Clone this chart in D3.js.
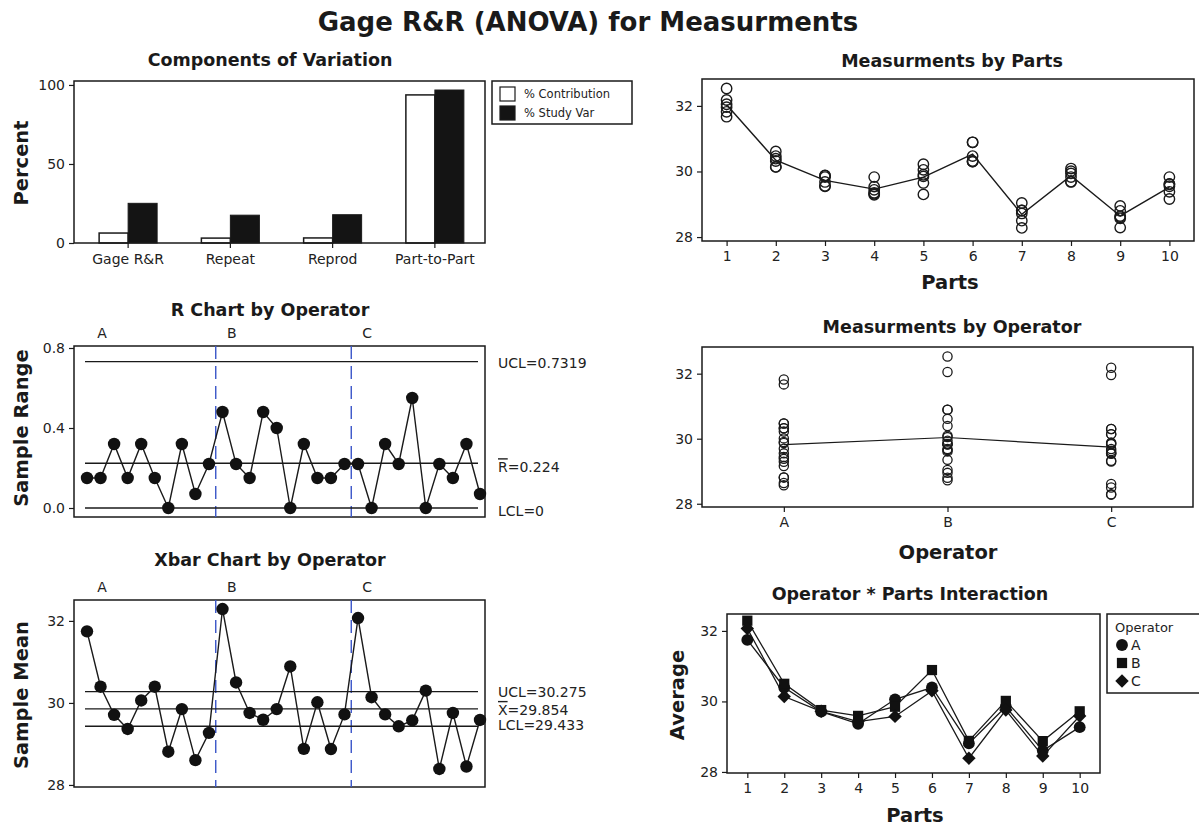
<!DOCTYPE html>
<html>
<head>
<meta charset="utf-8">
<script src="https://cdnjs.cloudflare.com/ajax/libs/d3/7.8.5/d3.min.js"></script>
<style>
  body { margin: 0; background: #fff; }
  svg { font-family: "DejaVu Sans", sans-serif; }
</style>
</head>
<body>
<svg id="chart" width="1199" height="827"></svg>
<script>
// --- data ---
const components = ['Gage R&R', 'Repeat', 'Reprod', 'Part-to-Part'];
const pctContribution = [6.3, 3.1, 3.2, 93.7];
const pctStudyVar = [25.1, 17.6, 17.9, 96.8];

const parts = [1, 2, 3, 4, 5, 6, 7, 8, 9, 10];
const operators = ['A', 'B', 'C'];

// two trials per operator and part
const measA1 = [31.67, 30.32, 29.55, 29.29, 29.90, 30.32, 28.81, 29.69, 28.57, 29.16];
const measA2 = [31.82, 30.47, 29.87, 29.44, 30.22, 30.47, 28.81, 30.01, 28.64, 29.38];
const measB1 = [32.05, 30.39, 29.68, 29.35, 29.65, 30.89, 28.72, 29.94, 28.80, 29.61];
const measB2 = [32.53, 30.61, 29.83, 29.83, 30.05, 30.89, 29.04, 30.09, 28.95, 29.83];
const measC1 = [31.96, 30.14, 29.56, 29.32, 29.30, 30.30, 28.28, 29.68, 28.29, 29.55];
const measC2 = [32.18, 30.14, 29.88, 29.54, 29.85, 30.30, 28.50, 29.83, 28.61, 29.62];

const rLimits = [0.7319, 0.224, 0];
const xbarLimits = [30.275, 29.854, 29.433];

// --- derived subgroups ---
const trials = [[measA1, measA2], [measB1, measB2], [measC1, measC2]];
const subgroups = [];
operators.forEach((op, i) => {
  parts.forEach((p, j) => {
    const vals = [trials[i][0][j], trials[i][1][j]];
    subgroups.push({ k: i * 10 + j + 1, op: op, part: p,
      mean: d3.mean(vals), range: d3.max(vals) - d3.min(vals) });
  });
});
const allMeas = [];
operators.forEach((op, i) => {
  parts.forEach((p, j) => {
    allMeas.push({ op: op, part: p, v: trials[i][0][j] });
    allMeas.push({ op: op, part: p, v: trials[i][1][j] });
  });
});

const svg = d3.select('#chart');
const ink = '#1a1a1a';

function box(x0, y0, x1, y1) {
  svg.append('rect')
    .attr('x', x0).attr('y', y0)
    .attr('width', x1 - x0).attr('height', y1 - y0)
    .attr('fill', 'none').attr('stroke', ink).attr('stroke-width', 1.5);
}
function panelTitle(x, y, txt) {
  svg.append('text').attr('x', x).attr('y', y)
    .attr('text-anchor', 'middle').attr('font-weight', 'bold')
    .attr('font-size', 17.5).attr('fill', ink).text(txt);
}
function axisTitle(x, y, txt, rotate) {
  const t = svg.append('text')
    .attr('text-anchor', 'middle').attr('font-weight', 'bold')
    .attr('font-size', 19.5).attr('fill', ink).text(txt);
  if (rotate) t.attr('transform', `translate(${x},${y}) rotate(-90)`);
  else t.attr('x', x).attr('y', y);
}
function styleAxis(g) {
  g.attr('font-family', '"DejaVu Sans", sans-serif').attr('font-size', 14);
  g.select('.domain').remove();
  g.selectAll('.tick line').attr('stroke', ink).attr('stroke-width', 1.2);
  g.selectAll('.tick text').attr('fill', '#222');
}

// main title
svg.append('text').attr('x', 588).attr('y', 31)
  .attr('text-anchor', 'middle').attr('font-weight', 'bold')
  .attr('font-size', 26).attr('fill', ink)
  .text('Gage R&R (ANOVA) for Measurments');

// ===== Components of Variation =====
panelTitle(270, 66, 'Components of Variation');
const xComp = d3.scaleBand().domain(components).range([77, 486]);
const yComp = d3.scaleLinear().domain([0, 102.5]).range([243, 81]);
const barW = 29;

svg.append('g').attr('transform', 'translate(74,0)')
  .call(d3.axisLeft(yComp).tickValues([0, 50, 100]).tickSize(5).tickPadding(4))
  .call(styleAxis);
svg.append('g').attr('transform', 'translate(0,243)')
  .call(d3.axisBottom(xComp).tickSize(5).tickPadding(6))
  .call(styleAxis);

svg.append('g').selectAll('rect')
  .data(components)
  .join('rect')
  .attr('x', d => xComp(d) + xComp.bandwidth() / 2 - barW)
  .attr('y', (d, i) => yComp(pctContribution[i]))
  .attr('width', barW)
  .attr('height', (d, i) => yComp(0) - yComp(pctContribution[i]))
  .attr('fill', '#fff').attr('stroke', ink).attr('stroke-width', 1.5);
svg.append('g').selectAll('rect')
  .data(components)
  .join('rect')
  .attr('x', d => xComp(d) + xComp.bandwidth() / 2)
  .attr('y', (d, i) => yComp(pctStudyVar[i]))
  .attr('width', barW)
  .attr('height', (d, i) => yComp(0) - yComp(pctStudyVar[i]))
  .attr('fill', '#141414').attr('stroke', ink).attr('stroke-width', 1);
box(74, 81, 485, 243);
axisTitle(28, 163, 'Percent', true);

// legend
svg.append('rect').attr('x', 492).attr('y', 81).attr('width', 140).attr('height', 43)
  .attr('fill', '#fff').attr('stroke', ink).attr('stroke-width', 1.5);
[['% Contribution', '#fff'], ['% Study Var', '#141414']].forEach((d, i) => {
  svg.append('rect').attr('x', 500).attr('y', 87 + i * 19).attr('width', 15).attr('height', 14)
    .attr('fill', d[1]).attr('stroke', ink).attr('stroke-width', 1.2);
  svg.append('text').attr('x', 524).attr('y', 98 + i * 19)
    .attr('font-size', 11.5).attr('fill', '#222').text(d[0]);
});

// ===== shared helpers for control charts =====
const xCtl = d3.scaleLinear().domain([1, 30]).range([87, 480]);

function controlChart(opts) {
  const y = opts.y;
  box(74, opts.top, 485, opts.bottom);
  svg.append('g').attr('transform', 'translate(74,0)')
    .call(d3.axisLeft(y).tickValues(opts.ticks).tickFormat(opts.fmt).tickSize(5).tickPadding(4))
    .call(styleAxis);
  // operator dividers
  [10.5, 20.5].forEach(b => {
    svg.append('line')
      .attr('x1', xCtl(b)).attr('x2', xCtl(b))
      .attr('y1', opts.top).attr('y2', opts.bottom)
      .attr('stroke', '#3a55c8').attr('stroke-width', 1.4)
      .attr('stroke-dasharray', '13,7');
  });
  // operator labels
  operators.forEach((op, i) => {
    const x = i === 0 ? xCtl(1) + 15 : xCtl(i * 10 + 0.5) + 16;
    svg.append('text').attr('x', x).attr('y', opts.top - 8)
      .attr('text-anchor', 'middle').attr('font-size', 14).attr('fill', '#222').text(op);
  });
  // limit lines
  opts.limits.forEach(v => {
    svg.append('line')
      .attr('x1', xCtl(1) - 2).attr('x2', xCtl(30) - 2)
      .attr('y1', y(v)).attr('y2', y(v))
      .attr('stroke', ink).attr('stroke-width', 1.4);
  });
  const line = d3.line().x(d => xCtl(d.k)).y(d => y(opts.val(d)));
  svg.append('path').datum(subgroups)
    .attr('d', line).attr('fill', 'none')
    .attr('stroke', ink).attr('stroke-width', 1.4);
  svg.append('g').selectAll('circle')
    .data(subgroups)
    .join('circle')
    .attr('cx', d => xCtl(d.k))
    .attr('cy', d => y(opts.val(d)))
    .attr('r', 6.2)
    .attr('fill', '#111');
}

// ===== R Chart =====
panelTitle(270, 316, 'R Chart by Operator');
const yR = d3.scaleLinear().domain([-0.045, 0.81]).range([517, 346]);
controlChart({ y: yR, top: 346, bottom: 517, ticks: [0, 0.4, 0.8],
  fmt: d3.format('.1f'), limits: rLimits, val: d => d.range });
axisTitle(28, 428, 'Sample Range', true);
svg.append('text').attr('x', 498).attr('y', yR(rLimits[0]) + 6)
  .attr('font-size', 14).attr('fill', '#222').text('UCL=0.7319');
const rbarT = svg.append('text').attr('x', 498).attr('y', yR(rLimits[1]) + 9)
  .attr('font-size', 14).attr('fill', '#222');
rbarT.append('tspan').style('text-decoration', 'overline').text('R');
rbarT.append('tspan').text('=0.224');
svg.append('text').attr('x', 498).attr('y', yR(rLimits[2]) + 8)
  .attr('font-size', 14).attr('fill', '#222').text('LCL=0');

// ===== Xbar Chart =====
panelTitle(270, 566, 'Xbar Chart by Operator');
const yX = d3.scaleLinear().domain([27.95, 32.51]).range([787, 600]);
controlChart({ y: yX, top: 600, bottom: 787, ticks: [28, 30, 32],
  fmt: d3.format('d'), limits: xbarLimits, val: d => d.mean });
axisTitle(28, 695, 'Sample Mean', true);
svg.append('text').attr('x', 498).attr('y', yX(xbarLimits[0]) + 5)
  .attr('font-size', 14).attr('fill', '#222').text('UCL=30.275');
const xbarT = svg.append('text').attr('x', 498).attr('y', yX(xbarLimits[1]) + 6)
  .attr('font-size', 14).attr('fill', '#222');
xbarT.append('tspan').style('text-decoration', 'overline').text('X');
xbarT.append('tspan').text('=29.854');
svg.append('text').attr('x', 498).attr('y', yX(xbarLimits[2]) + 4)
  .attr('font-size', 14).attr('fill', '#222').text('LCL=29.433');

// ===== Measurments by Parts =====
panelTitle(952, 67, 'Measurments by Parts');
const xPt = d3.scaleLinear().domain([0.5, 10.5]).range([702, 1194]);
const yPt = d3.scaleLinear().domain([27.88, 32.82]).range([241, 79]);
svg.append('g').attr('transform', 'translate(702,0)')
  .call(d3.axisLeft(yPt).tickValues([28, 30, 32]).tickFormat(d3.format('d')).tickSize(5).tickPadding(4))
  .call(styleAxis);
svg.append('g').attr('transform', 'translate(0,241)')
  .call(d3.axisBottom(xPt).tickValues(parts).tickFormat(d3.format('d')).tickSize(5).tickPadding(5))
  .call(styleAxis);
const partMeans = parts.map(p => ({ part: p, v: d3.mean(allMeas.filter(d => d.part === p), d => d.v) }));
svg.append('path').datum(partMeans)
  .attr('d', d3.line().x(d => xPt(d.part)).y(d => yPt(d.v)))
  .attr('fill', 'none').attr('stroke', ink).attr('stroke-width', 1.4);
svg.append('g').selectAll('circle')
  .data(allMeas)
  .join('circle')
  .attr('cx', d => xPt(d.part)).attr('cy', d => yPt(d.v))
  .attr('r', 5.2).attr('fill', 'none').attr('stroke', ink).attr('stroke-width', 1.4);
box(702, 79, 1194, 241);
axisTitle(950, 289, 'Parts', false);

// ===== Measurments by Operator =====
panelTitle(952, 333, 'Measurments by Operator');
const xOp = d3.scalePoint().domain(operators).range([702, 1193]).padding(0.5);
const yOp = d3.scaleLinear().domain([27.9, 32.82]).range([507, 347]);
svg.append('g').attr('transform', 'translate(702,0)')
  .call(d3.axisLeft(yOp).tickValues([28, 30, 32]).tickFormat(d3.format('d')).tickSize(5).tickPadding(4))
  .call(styleAxis);
svg.append('g').attr('transform', 'translate(0,507)')
  .call(d3.axisBottom(xOp).tickSize(5).tickPadding(5))
  .call(styleAxis);
const opMeans = operators.map(op => ({ op: op, v: d3.mean(allMeas.filter(d => d.op === op), d => d.v) }));
svg.append('path').datum(opMeans)
  .attr('d', d3.line().x(d => xOp(d.op)).y(d => yOp(d.v)))
  .attr('fill', 'none').attr('stroke', ink).attr('stroke-width', 1.2);
svg.append('g').selectAll('circle')
  .data(allMeas)
  .join('circle')
  .attr('cx', d => xOp(d.op)).attr('cy', d => yOp(d.v))
  .attr('r', 4.6).attr('fill', 'none').attr('stroke', ink).attr('stroke-width', 1.3);
box(702, 347, 1193, 507);
axisTitle(948, 559, 'Operator', false);

// ===== Operator * Parts Interaction =====
panelTitle(910, 600, 'Operator * Parts Interaction');
const xI = d3.scaleLinear().domain([0.45, 10.55]).range([727, 1100]);
const yI = d3.scaleLinear().domain([27.97, 32.48]).range([773, 614]);
svg.append('g').attr('transform', 'translate(727,0)')
  .call(d3.axisLeft(yI).tickValues([28, 30, 32]).tickFormat(d3.format('d')).tickSize(5).tickPadding(4))
  .call(styleAxis);
svg.append('g').attr('transform', 'translate(0,773)')
  .call(d3.axisBottom(xI).tickValues(parts).tickFormat(d3.format('d')).tickSize(5).tickPadding(5))
  .call(styleAxis);
// circle, square, diamond (square turned 45 degrees)
const symTypes = [d3.symbolCircle, d3.symbolSquare, d3.symbolSquare];
const symSizes = [110, 105, 90];
const symRotate = [0, 0, 45];
operators.forEach((op, i) => {
  const rows = subgroups.filter(d => d.op === op);
  svg.append('path').datum(rows)
    .attr('d', d3.line().x(d => xI(d.part)).y(d => yI(d.mean)))
    .attr('fill', 'none').attr('stroke', ink).attr('stroke-width', 1.3);
});
operators.forEach((op, i) => {
  const rows = subgroups.filter(d => d.op === op);
  svg.append('g').selectAll('path')
    .data(rows)
    .join('path')
    .attr('transform', d => `translate(${xI(d.part)},${yI(d.mean)}) rotate(${symRotate[i]})`)
    .attr('d', d3.symbol().type(symTypes[i]).size(symSizes[i]))
    .attr('fill', '#111');
});
box(727, 614, 1100, 773);
axisTitle(684, 695, 'Average', true);
axisTitle(915, 822, 'Parts', false);

// legend
svg.append('rect').attr('x', 1107).attr('y', 614).attr('width', 100).attr('height', 79)
  .attr('fill', '#fff').attr('stroke', ink).attr('stroke-width', 1.5);
svg.append('text').attr('x', 1115).attr('y', 632)
  .attr('font-size', 13).attr('fill', '#222').text('Operator');
operators.forEach((op, i) => {
  svg.append('path')
    .attr('transform', `translate(1122,${645 + i * 18}) rotate(${symRotate[i]})`)
    .attr('d', d3.symbol().type(symTypes[i]).size(symSizes[i]))
    .attr('fill', '#111');
  svg.append('text').attr('x', 1131).attr('y', 650 + i * 18)
    .attr('font-size', 14).attr('fill', '#222').text(op);
});
</script>
</body>
</html>
